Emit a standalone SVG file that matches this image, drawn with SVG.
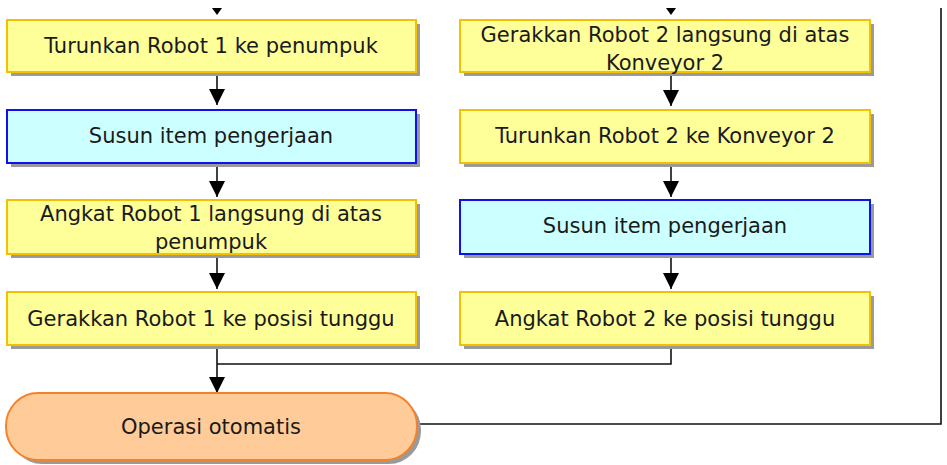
<svg xmlns="http://www.w3.org/2000/svg" width="947" height="465" viewBox="0 0 947 465">
<defs>
<style>
.sh{fill:#9a9a9a}
.y{fill:#FFFF99;stroke:#F5C000;stroke-width:2}
.c{fill:#CCFFFF;stroke:#1010F0;stroke-width:2}
.o{fill:#FFCC99;stroke:#F5822A;stroke-width:2}
text{font-family:"DejaVu Sans","Liberation Sans",sans-serif;font-size:21px;fill:#1a1a1a;text-anchor:middle}
.ln{fill:none;stroke:#111;stroke-width:1.6}
</style>
<marker id="ah" viewBox="0 0 16 16" markerWidth="16" markerHeight="16" refX="16" refY="8" orient="auto" markerUnits="userSpaceOnUse">
<path d="M0,0 L16,8 L0,16 Z" fill="#000"/>
</marker>
</defs>
<rect width="947" height="465" fill="#fff"/>

<g id="connectors">
<path d="M212,8 L222,8 L217,15 Z" fill="#000"/>
<path d="M666,8 L676,8 L671,15 Z" fill="#000"/>
<path class="ln" d="M217,72 V105" marker-end="url(#ah)"/>
<path class="ln" d="M217,163 V197" marker-end="url(#ah)"/>
<path class="ln" d="M217,254 V289" marker-end="url(#ah)"/>
<path class="ln" d="M671,72 V106" marker-end="url(#ah)"/>
<path class="ln" d="M671,163 V197" marker-end="url(#ah)"/>
<path class="ln" d="M671,254 V289" marker-end="url(#ah)"/>
<path class="ln" d="M217,345 V393" marker-end="url(#ah)"/>
<path class="ln" d="M671,345 V364 H217"/>
<path class="ln" d="M417,424 H941 V8"/>
</g>

<g id="n_l1">
<rect class="sh" x="11" y="24" width="409" height="52"/>
<rect class="y" x="7" y="20" width="409" height="52"/>
<text x="211" y="53">Turunkan Robot 1 ke penumpuk</text>
</g>
<g id="n_l2">
<rect class="sh" x="11" y="114" width="409" height="53"/>
<rect class="c" x="7" y="110" width="409" height="53"/>
<text x="211" y="143">Susun item pengerjaan</text>
</g>
<g id="n_l3">
<rect class="sh" x="11" y="204" width="409" height="54"/>
<rect class="y" x="7" y="200" width="409" height="54"/>
<text x="211" y="221">Angkat Robot 1 langsung di atas</text>
<text x="211" y="249">penumpuk</text>
</g>
<g id="n_l4">
<rect class="sh" x="11" y="296" width="409" height="53"/>
<rect class="y" x="7" y="292" width="409" height="53"/>
<text x="211" y="326">Gerakkan Robot 1 ke posisi tunggu</text>
</g>

<g id="n_r1">
<rect class="sh" x="464" y="24" width="410" height="52"/>
<rect class="y" x="460" y="20" width="410" height="52"/>
<text x="665" y="42">Gerakkan Robot 2 langsung di atas</text>
<text x="665" y="70">Konveyor 2</text>
</g>
<g id="n_r2">
<rect class="sh" x="464" y="114" width="410" height="53"/>
<rect class="y" x="460" y="110" width="410" height="53"/>
<text x="665" y="143">Turunkan Robot 2 ke Konveyor 2</text>
</g>
<g id="n_r3">
<rect class="sh" x="464" y="204" width="410" height="54"/>
<rect class="c" x="460" y="200" width="410" height="54"/>
<text x="665" y="233">Susun item pengerjaan</text>
</g>
<g id="n_r4">
<rect class="sh" x="464" y="296" width="410" height="53"/>
<rect class="y" x="460" y="292" width="410" height="53"/>
<text x="665" y="326">Angkat Robot 2 ke posisi tunggu</text>
</g>

<g id="n_op">
<rect class="sh" x="10" y="397" width="411" height="67" rx="32" ry="33"/>
<rect class="o" x="6" y="393" width="411" height="67" rx="32" ry="33"/>
<text x="211" y="434">Operasi otomatis</text>
</g>
</svg>
